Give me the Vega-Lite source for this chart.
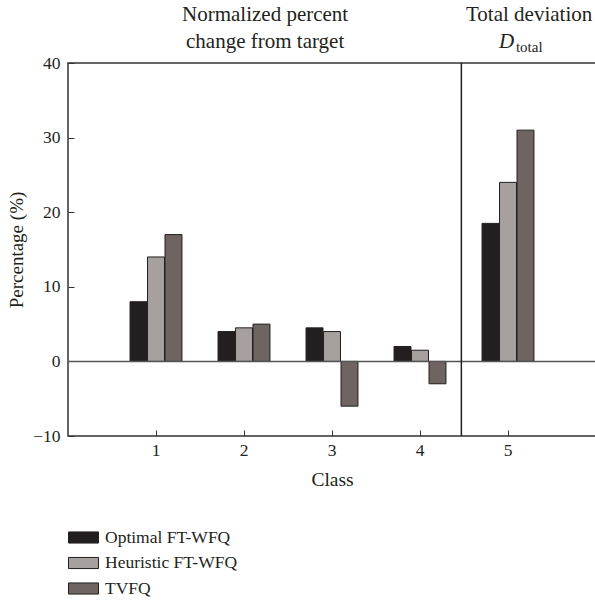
{
  "$schema": "https://vega.github.io/schema/vega-lite/v6.json",
  "width": 528,
  "height": 373,
  "autosize": {"type": "none"},
  "padding": {"left": 68, "top": 63, "right": 0, "bottom": 169},
  "background": "white",
  "config": {
    "font": "Liberation Serif",
    "view": {"stroke": "#333333", "strokeWidth": 1.5},
    "axis": {"labelFont": "Liberation Serif", "titleFont": "Liberation Serif", "labelColor": "#231f20", "titleColor": "#231f20", "titleFontWeight": "normal", "domain": false, "grid": false, "tickColor": "#333333"},
    "legend": {"labelFont": "Liberation Serif", "labelColor": "#231f20"}
  },
  "datasets": {
    "bars": [
      {"class": "1", "series": "Optimal FT-WFQ", "value": 8},
      {"class": "1", "series": "Heuristic FT-WFQ", "value": 14},
      {"class": "1", "series": "TVFQ", "value": 17},
      {"class": "2", "series": "Optimal FT-WFQ", "value": 4},
      {"class": "2", "series": "Heuristic FT-WFQ", "value": 4.5},
      {"class": "2", "series": "TVFQ", "value": 5},
      {"class": "3", "series": "Optimal FT-WFQ", "value": 4.5},
      {"class": "3", "series": "Heuristic FT-WFQ", "value": 4},
      {"class": "3", "series": "TVFQ", "value": -6},
      {"class": "4", "series": "Optimal FT-WFQ", "value": 2},
      {"class": "4", "series": "Heuristic FT-WFQ", "value": 1.5},
      {"class": "4", "series": "TVFQ", "value": -3},
      {"class": "5", "series": "Optimal FT-WFQ", "value": 18.5},
      {"class": "5", "series": "Heuristic FT-WFQ", "value": 24},
      {"class": "5", "series": "TVFQ", "value": 31}
    ],
    "one": [{}]
  },
  "layer": [
    {
      "data": {"name": "bars"},
      "mark": {"type": "bar", "stroke": "#231f20", "strokeWidth": 1},
      "encoding": {
        "x": {
          "field": "class", "type": "nominal",
          "scale": {"paddingInner": 0.41, "paddingOuter": 0.705},
          "axis": {"title": "Class", "labelAngle": 0, "labelFontSize": 17.5, "titleFontSize": 19.5, "tickSize": -6, "labelPadding": 11, "titlePadding": 12}
        },
        "xOffset": {
          "field": "series", "type": "nominal",
          "sort": ["Optimal FT-WFQ", "Heuristic FT-WFQ", "TVFQ"],
          "scale": {"paddingInner": 0.03}
        },
        "y": {
          "field": "value", "type": "quantitative",
          "scale": {"domain": [-10, 40]},
          "axis": {"title": "Percentage (%)", "values": [-10, 0, 10, 20, 30, 40], "labelFontSize": 17.5, "titleFontSize": 19, "tickSize": -6, "labelPadding": 14, "titlePadding": 6}
        },
        "color": {
          "field": "series", "type": "nominal",
          "scale": {"domain": ["Optimal FT-WFQ", "Heuristic FT-WFQ", "TVFQ"], "range": ["#231f20", "#a6a19f", "#6e6462"]},
          "legend": {
            "title": null, "orient": "none", "legendX": 0, "legendY": 459,
            "symbolType": "M-1,-0.37H1V0.37H-1Z", "symbolSize": 900,
            "symbolStrokeColor": "#231f20", "symbolStrokeWidth": 1,
            "labelFontSize": 17.5, "labelOffset": 6, "rowPadding": 1.5, "padding": 0
          }
        }
      }
    },
    {
      "data": {"name": "one"},
      "mark": {"type": "rule", "color": "#555555", "strokeWidth": 1.5},
      "encoding": {"y": {"datum": 0, "type": "quantitative", "scale": {"domain": [-10, 40]}}}
    },
    {
      "data": {"name": "one"},
      "mark": {"type": "rule", "color": "#231f20", "strokeWidth": 1.5},
      "encoding": {"x": {"datum": 4.47, "type": "quantitative", "scale": {"domain": [0, 6]}, "axis": null}}
    },
    {
      "data": {"name": "one"},
      "mark": {"type": "text", "fontSize": 21, "color": "#231f20", "align": "center", "baseline": "middle"},
      "encoding": {
        "x": {"datum": 2.24, "type": "quantitative", "scale": {"domain": [0, 6]}, "axis": null},
        "y": {"datum": 46.4, "type": "quantitative", "scale": {"domain": [-10, 40]}},
        "text": {"value": "Normalized percent"}
      }
    },
    {
      "data": {"name": "one"},
      "mark": {"type": "text", "fontSize": 21, "color": "#231f20", "align": "center", "baseline": "middle"},
      "encoding": {
        "x": {"datum": 2.24, "type": "quantitative", "scale": {"domain": [0, 6]}, "axis": null},
        "y": {"datum": 42.8, "type": "quantitative", "scale": {"domain": [-10, 40]}},
        "text": {"value": "change from target"}
      }
    },
    {
      "data": {"name": "one"},
      "mark": {"type": "text", "fontSize": 21, "color": "#231f20", "align": "center", "baseline": "middle"},
      "encoding": {
        "x": {"datum": 5.24, "type": "quantitative", "scale": {"domain": [0, 6]}, "axis": null},
        "y": {"datum": 46.4, "type": "quantitative", "scale": {"domain": [-10, 40]}},
        "text": {"value": "Total deviation"}
      }
    },
    {
      "data": {"name": "one"},
      "mark": {"type": "text", "fontSize": 21, "fontStyle": "italic", "color": "#231f20", "align": "right", "baseline": "middle"},
      "encoding": {
        "x": {"datum": 5.07, "type": "quantitative", "scale": {"domain": [0, 6]}, "axis": null},
        "y": {"datum": 42.8, "type": "quantitative", "scale": {"domain": [-10, 40]}},
        "text": {"value": "D"}
      }
    },
    {
      "data": {"name": "one"},
      "mark": {"type": "text", "fontSize": 15, "color": "#231f20", "align": "left", "baseline": "middle"},
      "encoding": {
        "x": {"datum": 5.09, "type": "quantitative", "scale": {"domain": [0, 6]}, "axis": null},
        "y": {"datum": 42.2, "type": "quantitative", "scale": {"domain": [-10, 40]}},
        "text": {"value": "total"}
      }
    }
  ],
  "resolve": {"scale": {"x": "independent"}}
}
